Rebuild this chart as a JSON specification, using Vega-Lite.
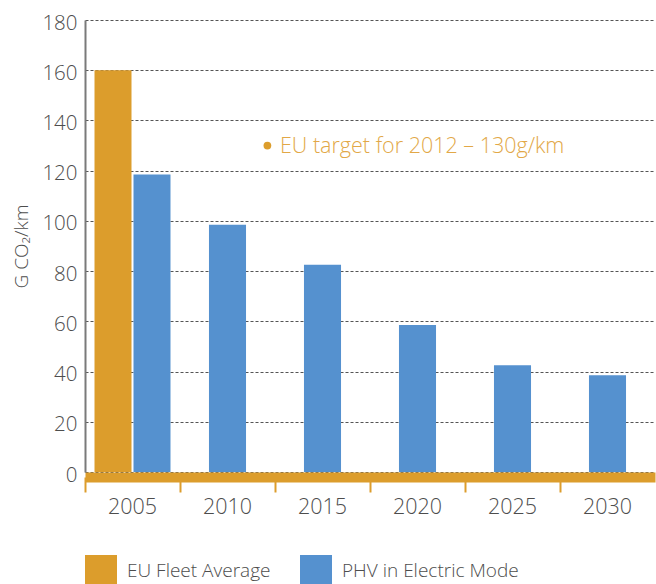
{
  "$schema": "https://vega.github.io/schema/vega-lite/v6.json",
  "width": 570,
  "height": 452,
  "autosize": "none",
  "padding": {"left": 85, "top": 20, "right": 1, "bottom": 112},
  "background": "white",
  "config": {
    "view": {"stroke": null},
    "font": "Open Sans",
    "axisY": {
      "domainColor": "#7a7a7a",
      "domainWidth": 2,
      "ticks": false,
      "labelFontSize": 20.5,
      "labelFontWeight": 300,
      "labelColor": "#4d4d4d",
      "labelPadding": 8,
      "labelOffset": 3,
      "grid": true,
      "gridColor": "#555555",
      "gridDash": [3, 2],
      "gridWidth": 1.2,
      "titleFontSize": 19,
      "titleFontWeight": 300,
      "titleColor": "#4d4d4d",
      "titlePadding": 10
    }
  },
  "datasets": {
    "bars": [
      {"year": "2005", "series": "EU Fleet Average", "value": 160},
      {"year": "2005", "series": "PHV in Electric Mode", "value": 118.5},
      {"year": "2010", "series": "PHV in Electric Mode", "value": 98.5},
      {"year": "2015", "series": "PHV in Electric Mode", "value": 82.5},
      {"year": "2020", "series": "PHV in Electric Mode", "value": 58.5},
      {"year": "2025", "series": "PHV in Electric Mode", "value": 42.5},
      {"year": "2030", "series": "PHV in Electric Mode", "value": 38.5}
    ],
    "notes": [
      {"year": "2010", "value": 130, "label": "EU target for 2012 – 130g/km"}
    ]
  },
  "resolve": {"axis": {"x": "independent"}},
  "layer": [
    {
      "data": {"name": "bars"},
      "transform": [{"filter": "datum.year == '2005'"}],
      "mark": {"type": "bar"},
      "encoding": {
        "x": {
          "field": "year", "type": "nominal",
          "scale": {"domain": ["2005", "2010", "2015", "2020", "2025", "2030"], "paddingInner": 0, "paddingOuter": 0},
          "axis": {
            "orient": "bottom",
            "bandPosition": 0, "labels": false, "title": null, "grid": false,
            "domainColor": "#DC9D2C", "domainWidth": 10, "offset": 5,
            "tickColor": "#DC9D2C", "tickWidth": 2, "tickSize": 15
          }
        },
        "xOffset": {"field": "series", "type": "nominal", "scale": {"paddingInner": 0.051, "paddingOuter": 0.244}},
        "y": {
          "field": "value", "type": "quantitative",
          "scale": {"domain": [0, 180]},
          "axis": {"values": [0, 20, 40, 60, 80, 100, 120, 140, 160, 180], "title": "G CO₂/km"}
        },
        "color": {
          "field": "series", "type": "nominal",
          "scale": {"domain": ["EU Fleet Average", "PHV in Electric Mode"], "range": ["#DC9D2C", "#5591CF"]},
          "legend": {
            "title": null, "orient": "none", "legendX": 0, "legendY": 535,
            "direction": "horizontal", "columns": 2, "columnPadding": 29,
            "symbolType": "square", "symbolSize": 1024, "symbolStrokeWidth": 0,
            "labelFontSize": 19, "labelFontWeight": 300, "labelColor": "#4d4d4d", "labelOffset": 10, "labelLimit": 400
          }
        }
      }
    },
    {
      "data": {"name": "bars"},
      "transform": [{"filter": "datum.year != '2005'"}],
      "mark": {"type": "bar", "width": {"band": 0.39}},
      "encoding": {
        "x": {
          "field": "year", "type": "nominal",
          "axis": {
            "orient": "bottom",
            "title": null, "grid": false, "domain": false, "ticks": false,
            "labelAngle": 0, "labelFontSize": 21.5, "labelFontWeight": 300, "labelColor": "#4d4d4d", "labelPadding": 24
          }
        },
        "y": {"field": "value", "type": "quantitative"},
        "color": {"field": "series", "type": "nominal"}
      }
    },
    {
      "mark": {"type": "rule", "stroke": "#6e6e6e", "strokeWidth": 2},
      "encoding": {"y": {"datum": 180, "type": "quantitative"}}
    },
    {
      "data": {"name": "notes"},
      "mark": {"type": "circle", "color": "#DC9D2C", "opacity": 1, "size": 60},
      "encoding": {
        "x": {"field": "year", "type": "nominal", "bandPosition": 0.92, "axis": null},
        "y": {"field": "value", "type": "quantitative"}
      }
    },
    {
      "data": {"name": "notes"},
      "mark": {"type": "text", "color": "#E2A847", "fontSize": 21.5, "fontWeight": 300, "align": "left", "baseline": "middle", "dx": 5, "dy": 1},
      "encoding": {
        "x": {"field": "year", "type": "nominal", "bandPosition": 1, "axis": null},
        "y": {"field": "value", "type": "quantitative"},
        "text": {"field": "label"}
      }
    }
  ]
}
